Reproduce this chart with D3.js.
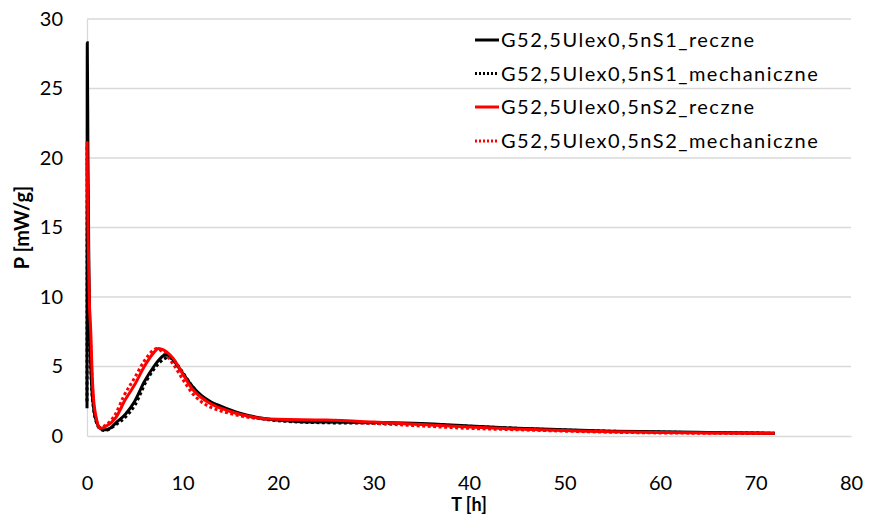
<!DOCTYPE html>
<html><head><meta charset="utf-8">
<script src="https://cdn.jsdelivr.net/npm/d3@7"></script>
<style>
body{margin:0;background:#fff;}
svg{display:block;font-family:Lato,sans-serif;}
</style></head>
<body>
<svg id="chart" width="869" height="514"></svg>
<script>
const seriesNames = ["G52,5Ulex0,5nS1_reczne","G52,5Ulex0,5nS1_mechaniczne","G52,5Ulex0,5nS2_reczne","G52,5Ulex0,5nS2_mechaniczne"];
const seriesColors = ["#000000","#000000","#ff0000","#ff0000"];
const seriesDotted = [false,true,false,true];

const tS1r = [0,0.03,0.1,0.2,0.3,0.4,0.5,0.7,1,1.4,1.7,2,2.5,3,4,5,6,7,7.5,8,8.3,8.7,9,10,11,12,13,14,15,16,18,20,22,25,30,35,40,45,50,55,60,65,72];
const pS1r = [2.0,28.3,20,12,7.5,5,3.5,2.0,1.0,0.55,0.45,0.45,0.6,0.93,1.55,2.5,3.9,5.0,5.45,5.78,5.83,5.75,5.5,4.55,3.6,2.9,2.45,2.15,1.88,1.64,1.32,1.15,1.05,1.0,0.97,0.9,0.72,0.56,0.45,0.35,0.3,0.25,0.2];

const tS1m = [0,0.03,0.1,0.2,0.3,0.5,0.7,1,1.4,1.8,2.2,3,4,5,6.25,7,8,8.5,9,10,11,12,13,14,15,16,18,20,25,30,35,40,45,50,55,60,65,72];
const pS1m = [2.5,20,15,10,7,3.3,1.9,0.95,0.5,0.4,0.45,0.8,1.35,2.2,4.0,4.8,5.5,5.65,5.5,4.6,3.6,2.85,2.4,2.1,1.82,1.58,1.27,1.1,0.95,0.92,0.85,0.7,0.55,0.43,0.34,0.28,0.24,0.2];

const tS2r = [0,0.1,0.24,0.4,0.5,0.66,1,1.36,2,3,4,5,6,7,7.5,8,9,10,11,12,13,14,15,16,18,20,25,30,35,40,45,50,55,60,65,72];
const pS2r = [21.2,15,9.8,7.4,5.2,2.9,1.2,0.55,0.7,1.3,2.6,3.7,5.0,6.0,6.3,6.2,5.6,4.5,3.4,2.75,2.3,2.0,1.76,1.56,1.3,1.2,1.15,1.0,0.82,0.65,0.5,0.4,0.3,0.25,0.22,0.19];

const tS2m = [0,0.1,0.24,0.4,0.5,0.66,1,1.3,2,3,3.8,5,6,7,7.3,8,9,10,11,12,13,14,15,16,18,20,25,30,35,40,45,50,55,60,65,72];
const pS2m = [20.8,14,9,6.5,4.6,2.6,1.1,0.6,0.8,1.6,2.8,4.2,5.4,6.2,6.3,6.0,5.2,4.1,3.1,2.45,2.05,1.8,1.62,1.45,1.25,1.15,1.05,0.9,0.72,0.55,0.45,0.35,0.27,0.22,0.2,0.18];

const xTicks = [0,10,20,30,40,50,60,70,80];
const yTicks = [0,5,10,15,20,25,30];
const xTitle = "T [h]";
const yTitle = "P [mW/g]";

const seriesT = [tS1r,tS1m,tS2r,tS2m];
const seriesP = [pS1r,pS1m,pS2r,pS2m];

const svg = d3.select("#chart");
const x = d3.scaleLinear().domain([0,80]).range([87,851]);
const y = d3.scaleLinear().domain([0,30]).range([436,19]);

// gridlines
svg.append("g").selectAll("line").data(yTicks.filter(d=>d>0)).join("line")
  .attr("x1",x(0)).attr("x2",x(80)).attr("y1",d=>y(d)).attr("y2",d=>y(d))
  .attr("stroke","#d9d9d9").attr("stroke-width",1.3);

// axes
const xAxis = svg.append("g").attr("transform",`translate(0,${y(0)})`)
  .call(d3.axisBottom(x).tickValues(xTicks).tickSize(0).tickPadding(40));
xAxis.select(".domain").attr("stroke","#d9d9d9").attr("stroke-width",1.3);
xAxis.selectAll("text").attr("font-size",20).attr("fill","#000").attr("font-family","Lato");

const yAxis = svg.append("g").attr("transform",`translate(${x(0)},0)`)
  .call(d3.axisLeft(y).tickValues(yTicks).tickSize(0).tickPadding(24));
yAxis.select(".domain").attr("stroke","#d9d9d9").attr("stroke-width",1.3);
yAxis.selectAll("text").attr("font-size",20).attr("fill","#000").attr("font-family","Lato");

// lines
const line = d3.line().x(d=>x(d[0])).y(d=>y(d[1])).curve(d3.curveMonotoneX);
const order = [1,3,0,2];
order.forEach(i=>{
  const pts = seriesT[i].map((t,k)=>[t,seriesP[i][k]]);
  svg.append("path").datum(pts).attr("d",line)
    .attr("fill","none").attr("stroke",seriesColors[i])
    .attr("stroke-width",3)
    .attr("stroke-dasharray",seriesDotted[i]?"3,2.5":null);
});

// axis titles
svg.append("text").attr("x",469).attr("y",511).attr("text-anchor","middle")
  .attr("font-size",18).attr("font-weight","bold").attr("font-family","Lato").text(xTitle);
svg.append("text").attr("transform",`translate(29,${(y(0)+y(30))/2}) rotate(-90)`)
  .attr("text-anchor","middle").attr("font-size",20).attr("font-weight","bold").attr("font-family","Lato").text(yTitle);

// legend
const rowsY = [40,73.5,107,141];
const lg = svg.append("g");
seriesNames.forEach((n,i)=>{
  lg.append("line").attr("x1",475).attr("x2",499).attr("y1",rowsY[i]).attr("y2",rowsY[i])
    .attr("stroke",seriesColors[i]).attr("stroke-width",3)
    .attr("stroke-dasharray",seriesDotted[i]?"2,2":null);
  lg.append("text").attr("x",501).attr("y",rowsY[i]).attr("dy","0.36em")
    .attr("font-size",20).attr("letter-spacing",1.5).attr("font-family","Lato").text(n);
});
</script>
</body></html>
